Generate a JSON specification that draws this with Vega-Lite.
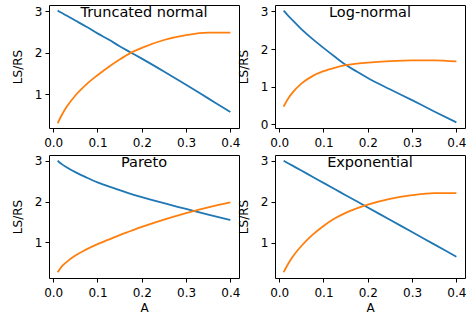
{
  "$schema": "https://vega.github.io/schema/vega-lite/v6.json",
  "padding": {"left": 10, "top": 4, "right": 0, "bottom": 0},
  "datasets": {
    "curves": [
      {"panel": "Truncated normal", "curve": "falling", "A": 0.01, "v": 3.02},
      {"panel": "Truncated normal", "curve": "falling", "A": 0.02, "v": 2.96},
      {"panel": "Truncated normal", "curve": "falling", "A": 0.03, "v": 2.90},
      {"panel": "Truncated normal", "curve": "falling", "A": 0.05, "v": 2.78},
      {"panel": "Truncated normal", "curve": "falling", "A": 0.075, "v": 2.63},
      {"panel": "Truncated normal", "curve": "falling", "A": 0.1, "v": 2.47},
      {"panel": "Truncated normal", "curve": "falling", "A": 0.125, "v": 2.32},
      {"panel": "Truncated normal", "curve": "falling", "A": 0.15, "v": 2.16},
      {"panel": "Truncated normal", "curve": "falling", "A": 0.175, "v": 2.01},
      {"panel": "Truncated normal", "curve": "falling", "A": 0.2, "v": 1.86},
      {"panel": "Truncated normal", "curve": "falling", "A": 0.25, "v": 1.55},
      {"panel": "Truncated normal", "curve": "falling", "A": 0.3, "v": 1.23},
      {"panel": "Truncated normal", "curve": "falling", "A": 0.35, "v": 0.90},
      {"panel": "Truncated normal", "curve": "falling", "A": 0.4, "v": 0.57},
      {"panel": "Truncated normal", "curve": "rising", "A": 0.01, "v": 0.30},
      {"panel": "Truncated normal", "curve": "rising", "A": 0.02, "v": 0.51},
      {"panel": "Truncated normal", "curve": "rising", "A": 0.03, "v": 0.69},
      {"panel": "Truncated normal", "curve": "rising", "A": 0.05, "v": 0.97},
      {"panel": "Truncated normal", "curve": "rising", "A": 0.075, "v": 1.24},
      {"panel": "Truncated normal", "curve": "rising", "A": 0.1, "v": 1.46},
      {"panel": "Truncated normal", "curve": "rising", "A": 0.125, "v": 1.66},
      {"panel": "Truncated normal", "curve": "rising", "A": 0.15, "v": 1.84},
      {"panel": "Truncated normal", "curve": "rising", "A": 0.175, "v": 2.00},
      {"panel": "Truncated normal", "curve": "rising", "A": 0.2, "v": 2.12},
      {"panel": "Truncated normal", "curve": "rising", "A": 0.25, "v": 2.31},
      {"panel": "Truncated normal", "curve": "rising", "A": 0.3, "v": 2.43},
      {"panel": "Truncated normal", "curve": "rising", "A": 0.35, "v": 2.49},
      {"panel": "Truncated normal", "curve": "rising", "A": 0.4, "v": 2.49},

      {"panel": "Log-normal", "curve": "falling", "A": 0.01, "v": 3.02},
      {"panel": "Log-normal", "curve": "falling", "A": 0.02, "v": 2.89},
      {"panel": "Log-normal", "curve": "falling", "A": 0.03, "v": 2.77},
      {"panel": "Log-normal", "curve": "falling", "A": 0.05, "v": 2.53},
      {"panel": "Log-normal", "curve": "falling", "A": 0.075, "v": 2.27},
      {"panel": "Log-normal", "curve": "falling", "A": 0.1, "v": 2.03},
      {"panel": "Log-normal", "curve": "falling", "A": 0.125, "v": 1.80},
      {"panel": "Log-normal", "curve": "falling", "A": 0.15, "v": 1.58},
      {"panel": "Log-normal", "curve": "falling", "A": 0.175, "v": 1.40},
      {"panel": "Log-normal", "curve": "falling", "A": 0.2, "v": 1.23},
      {"panel": "Log-normal", "curve": "falling", "A": 0.25, "v": 0.93},
      {"panel": "Log-normal", "curve": "falling", "A": 0.3, "v": 0.64},
      {"panel": "Log-normal", "curve": "falling", "A": 0.35, "v": 0.34},
      {"panel": "Log-normal", "curve": "falling", "A": 0.4, "v": 0.05},
      {"panel": "Log-normal", "curve": "rising", "A": 0.01, "v": 0.47},
      {"panel": "Log-normal", "curve": "rising", "A": 0.02, "v": 0.68},
      {"panel": "Log-normal", "curve": "rising", "A": 0.03, "v": 0.84},
      {"panel": "Log-normal", "curve": "rising", "A": 0.05, "v": 1.08},
      {"panel": "Log-normal", "curve": "rising", "A": 0.075, "v": 1.28},
      {"panel": "Log-normal", "curve": "rising", "A": 0.1, "v": 1.41},
      {"panel": "Log-normal", "curve": "rising", "A": 0.125, "v": 1.50},
      {"panel": "Log-normal", "curve": "rising", "A": 0.15, "v": 1.57},
      {"panel": "Log-normal", "curve": "rising", "A": 0.175, "v": 1.61},
      {"panel": "Log-normal", "curve": "rising", "A": 0.2, "v": 1.64},
      {"panel": "Log-normal", "curve": "rising", "A": 0.25, "v": 1.68},
      {"panel": "Log-normal", "curve": "rising", "A": 0.3, "v": 1.70},
      {"panel": "Log-normal", "curve": "rising", "A": 0.35, "v": 1.70},
      {"panel": "Log-normal", "curve": "rising", "A": 0.4, "v": 1.67},

      {"panel": "Pareto", "curve": "falling", "A": 0.01, "v": 3.00},
      {"panel": "Pareto", "curve": "falling", "A": 0.02, "v": 2.91},
      {"panel": "Pareto", "curve": "falling", "A": 0.03, "v": 2.84},
      {"panel": "Pareto", "curve": "falling", "A": 0.05, "v": 2.72},
      {"panel": "Pareto", "curve": "falling", "A": 0.075, "v": 2.59},
      {"panel": "Pareto", "curve": "falling", "A": 0.1, "v": 2.47},
      {"panel": "Pareto", "curve": "falling", "A": 0.125, "v": 2.37},
      {"panel": "Pareto", "curve": "falling", "A": 0.15, "v": 2.28},
      {"panel": "Pareto", "curve": "falling", "A": 0.175, "v": 2.19},
      {"panel": "Pareto", "curve": "falling", "A": 0.2, "v": 2.11},
      {"panel": "Pareto", "curve": "falling", "A": 0.25, "v": 1.96},
      {"panel": "Pareto", "curve": "falling", "A": 0.3, "v": 1.82},
      {"panel": "Pareto", "curve": "falling", "A": 0.35, "v": 1.68},
      {"panel": "Pareto", "curve": "falling", "A": 0.4, "v": 1.55},
      {"panel": "Pareto", "curve": "rising", "A": 0.01, "v": 0.27},
      {"panel": "Pareto", "curve": "rising", "A": 0.02, "v": 0.42},
      {"panel": "Pareto", "curve": "rising", "A": 0.03, "v": 0.52},
      {"panel": "Pareto", "curve": "rising", "A": 0.05, "v": 0.68},
      {"panel": "Pareto", "curve": "rising", "A": 0.075, "v": 0.83},
      {"panel": "Pareto", "curve": "rising", "A": 0.1, "v": 0.96},
      {"panel": "Pareto", "curve": "rising", "A": 0.125, "v": 1.07},
      {"panel": "Pareto", "curve": "rising", "A": 0.15, "v": 1.18},
      {"panel": "Pareto", "curve": "rising", "A": 0.175, "v": 1.28},
      {"panel": "Pareto", "curve": "rising", "A": 0.2, "v": 1.38},
      {"panel": "Pareto", "curve": "rising", "A": 0.25, "v": 1.56},
      {"panel": "Pareto", "curve": "rising", "A": 0.3, "v": 1.72},
      {"panel": "Pareto", "curve": "rising", "A": 0.35, "v": 1.86},
      {"panel": "Pareto", "curve": "rising", "A": 0.4, "v": 1.98},

      {"panel": "Exponential", "curve": "falling", "A": 0.01, "v": 3.00},
      {"panel": "Exponential", "curve": "falling", "A": 0.02, "v": 2.94},
      {"panel": "Exponential", "curve": "falling", "A": 0.03, "v": 2.88},
      {"panel": "Exponential", "curve": "falling", "A": 0.05, "v": 2.76},
      {"panel": "Exponential", "curve": "falling", "A": 0.075, "v": 2.61},
      {"panel": "Exponential", "curve": "falling", "A": 0.1, "v": 2.46},
      {"panel": "Exponential", "curve": "falling", "A": 0.125, "v": 2.31},
      {"panel": "Exponential", "curve": "falling", "A": 0.15, "v": 2.16},
      {"panel": "Exponential", "curve": "falling", "A": 0.175, "v": 2.01},
      {"panel": "Exponential", "curve": "falling", "A": 0.2, "v": 1.86},
      {"panel": "Exponential", "curve": "falling", "A": 0.25, "v": 1.56},
      {"panel": "Exponential", "curve": "falling", "A": 0.3, "v": 1.26},
      {"panel": "Exponential", "curve": "falling", "A": 0.35, "v": 0.96},
      {"panel": "Exponential", "curve": "falling", "A": 0.4, "v": 0.66},
      {"panel": "Exponential", "curve": "rising", "A": 0.01, "v": 0.28},
      {"panel": "Exponential", "curve": "rising", "A": 0.02, "v": 0.48},
      {"panel": "Exponential", "curve": "rising", "A": 0.03, "v": 0.65},
      {"panel": "Exponential", "curve": "rising", "A": 0.05, "v": 0.92},
      {"panel": "Exponential", "curve": "rising", "A": 0.075, "v": 1.19},
      {"panel": "Exponential", "curve": "rising", "A": 0.1, "v": 1.41},
      {"panel": "Exponential", "curve": "rising", "A": 0.125, "v": 1.59},
      {"panel": "Exponential", "curve": "rising", "A": 0.15, "v": 1.73},
      {"panel": "Exponential", "curve": "rising", "A": 0.175, "v": 1.84},
      {"panel": "Exponential", "curve": "rising", "A": 0.2, "v": 1.93},
      {"panel": "Exponential", "curve": "rising", "A": 0.25, "v": 2.07},
      {"panel": "Exponential", "curve": "rising", "A": 0.3, "v": 2.16},
      {"panel": "Exponential", "curve": "rising", "A": 0.35, "v": 2.21},
      {"panel": "Exponential", "curve": "rising", "A": 0.4, "v": 2.21}
    ]
  },
  "data": {"name": "curves"},
  "columns": 2,
  "spacing": {"row": 27, "column": 36},
  "bounds": "flush",
  "concat": [
    {
      "title": "Truncated normal",
      "width": 190,
      "height": 123,
      "transform": [{"filter": "datum.panel === 'Truncated normal'"}],
      "mark": {"type": "line", "strokeWidth": 1.8, "interpolate": "monotone"},
      "encoding": {
        "x": {"field": "A", "type": "quantitative", "title": null,
              "scale": {"domain": [-0.0095, 0.4195], "nice": false, "zero": false},
              "axis": {"values": [0, 0.1, 0.2, 0.3, 0.4], "format": ".1f"}},
        "y": {"field": "v", "type": "quantitative", "title": "LS/RS",
              "scale": {"domain": [0.185, 3.155], "nice": false, "zero": false},
              "axis": {"values": [1, 2, 3]}},
        "color": {"field": "curve", "type": "nominal", "legend": null,
                  "scale": {"domain": ["falling", "rising"], "range": ["#1f77b4", "#ff7f0e"]}}
      }
    },
    {
      "title": "Log-normal",
      "width": 190,
      "height": 123,
      "transform": [{"filter": "datum.panel === 'Log-normal'"}],
      "mark": {"type": "line", "strokeWidth": 1.8, "interpolate": "monotone"},
      "encoding": {
        "x": {"field": "A", "type": "quantitative", "title": null,
              "scale": {"domain": [-0.0095, 0.4195], "nice": false, "zero": false},
              "axis": {"values": [0, 0.1, 0.2, 0.3, 0.4], "format": ".1f"}},
        "y": {"field": "v", "type": "quantitative", "title": "LS/RS",
              "scale": {"domain": [-0.1, 3.17], "nice": false, "zero": false},
              "axis": {"values": [0, 1, 2, 3]}},
        "color": {"field": "curve", "type": "nominal", "legend": null,
                  "scale": {"domain": ["falling", "rising"], "range": ["#1f77b4", "#ff7f0e"]}}
      }
    },
    {
      "title": "Pareto",
      "width": 190,
      "height": 123,
      "transform": [{"filter": "datum.panel === 'Pareto'"}],
      "mark": {"type": "line", "strokeWidth": 1.8, "interpolate": "monotone"},
      "encoding": {
        "x": {"field": "A", "type": "quantitative", "title": "A",
              "scale": {"domain": [-0.0095, 0.4195], "nice": false, "zero": false},
              "axis": {"values": [0, 0.1, 0.2, 0.3, 0.4], "format": ".1f"}},
        "y": {"field": "v", "type": "quantitative", "title": "LS/RS",
              "scale": {"domain": [0.13, 3.14], "nice": false, "zero": false},
              "axis": {"values": [1, 2, 3]}},
        "color": {"field": "curve", "type": "nominal", "legend": null,
                  "scale": {"domain": ["falling", "rising"], "range": ["#1f77b4", "#ff7f0e"]}}
      }
    },
    {
      "title": "Exponential",
      "width": 190,
      "height": 123,
      "transform": [{"filter": "datum.panel === 'Exponential'"}],
      "mark": {"type": "line", "strokeWidth": 1.8, "interpolate": "monotone"},
      "encoding": {
        "x": {"field": "A", "type": "quantitative", "title": "A",
              "scale": {"domain": [-0.0095, 0.4195], "nice": false, "zero": false},
              "axis": {"values": [0, 0.1, 0.2, 0.3, 0.4], "format": ".1f"}},
        "y": {"field": "v", "type": "quantitative", "title": "LS/RS",
              "scale": {"domain": [0.14, 3.14], "nice": false, "zero": false},
              "axis": {"values": [1, 2, 3]}},
        "color": {"field": "curve", "type": "nominal", "legend": null,
                  "scale": {"domain": ["falling", "rising"], "range": ["#1f77b4", "#ff7f0e"]}}
      }
    }
  ],
  "config": {
    "font": "DejaVu Sans",
    "view": {"stroke": "#000", "strokeWidth": 1},
    "axis": {
      "grid": false,
      "domain": false,
      "ticks": true,
      "tickColor": "#000",
      "tickSize": 4,
      "tickWidth": 1,
      "labelFont": "DejaVu Sans",
      "labelFontSize": 12,
      "labelColor": "#000",
      "labelFlush": false,
      "labelOverlap": false,
      "titleFont": "DejaVu Sans",
      "titleFontSize": 12,
      "titleFontWeight": "normal",
      "titleColor": "#000"
    },
    "axisX": {"labelPadding": 5, "titlePadding": 4},
    "axisY": {"labelPadding": 3, "titlePadding": 10},
    "title": {
      "font": "DejaVu Sans",
      "fontSize": 14.5,
      "fontWeight": "normal",
      "color": "#000",
      "anchor": "middle",
      "frame": "group",
      "baseline": "alphabetic",
      "offset": -15.5
    }
  }
}
